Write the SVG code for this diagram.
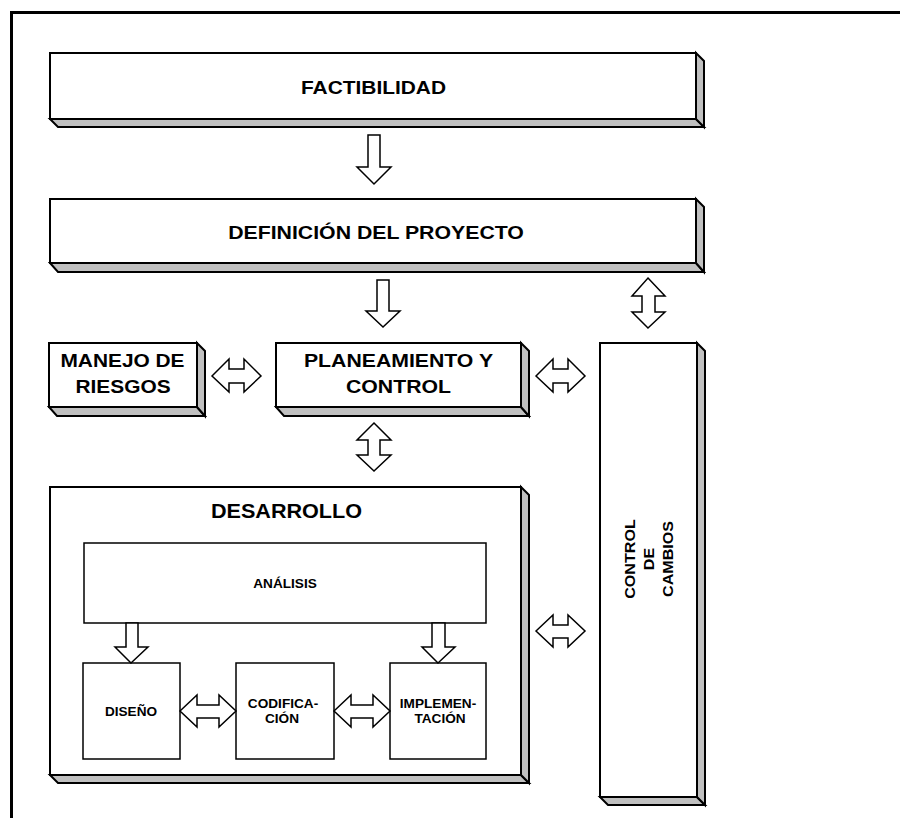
<svg xmlns="http://www.w3.org/2000/svg" width="900" height="818" viewBox="0 0 900 818">
<style>
.f{fill:#fff;stroke:#000;stroke-width:2}
.s{fill:#c0c0c0;stroke:#000;stroke-width:2;stroke-linejoin:miter}
.b{fill:#fff;stroke:#000;stroke-width:1.5}
.a{fill:#fff;stroke:#000;stroke-width:1.5;stroke-linejoin:miter}
text{font-family:"Liberation Sans",Arial,sans-serif;font-weight:bold;fill:#000;text-anchor:middle}
.t19{font-size:19px}
.t18{font-size:18px}
.t20{font-size:20px}
.t14{font-size:14px}
.t12{font-size:12.5px}
</style>
<rect width="900" height="818" fill="#fff"/>
<path d="M11.5,818 V12.5 H900" fill="none" stroke="#000" stroke-width="3"/>

<g id="factibilidad">
<rect class="f" x="50" y="53" width="646" height="66"/>
<polygon class="s" points="50,119 696,119 704,127 58,127"/>
<polygon class="s" points="696,53 704,61 704,127 696,119"/>
<text class="t19" transform="translate(373.5,94) scale(1.1,1)">FACTIBILIDAD</text>
</g>

<g id="definicion">
<rect class="f" x="50" y="199" width="646" height="64"/>
<polygon class="s" points="50,263 696,263 704,272 58,272"/>
<polygon class="s" points="696,199 704,207 704,272 696,263"/>
<text class="t19" transform="translate(376,239) scale(1.12,1)">DEFINICIÓN DEL PROYECTO</text>
</g>

<g id="manejo">
<rect class="f" x="49" y="343" width="148" height="64"/>
<polygon class="s" points="49,407 197,407 205,416 57,416"/>
<polygon class="s" points="197,343 205,351 205,416 197,407"/>
<text class="t18" transform="translate(122.5,367) scale(1.16,1)">MANEJO DE</text>
<text class="t18" transform="translate(123,393) scale(1.16,1)">RIESGOS</text>
</g>

<g id="planeamiento">
<rect class="f" x="276" y="343" width="245" height="64"/>
<polygon class="s" points="276,407 521,407 529,416 284,416"/>
<polygon class="s" points="521,343 529,351 529,416 521,407"/>
<text class="t18" transform="translate(398.5,367) scale(1.18,1)">PLANEAMIENTO Y</text>
<text class="t18" transform="translate(398.5,393) scale(1.18,1)">CONTROL</text>
</g>

<g id="control-cambios">
<rect class="f" x="600" y="343" width="97" height="454"/>
<polygon class="s" points="600,797 697,797 705,805 608,805"/>
<polygon class="s" points="697,343 705,351 705,805 697,797"/>
<g transform="translate(648,559) rotate(-90)">
<text class="t14" transform="translate(0,-13) scale(1.15,1)">CONTROL</text>
<text class="t14" transform="translate(0,6) scale(1.15,1)">DE</text>
<text class="t14" transform="translate(0,25) scale(1.15,1)">CAMBIOS</text>
</g>
</g>

<g id="desarrollo">
<rect class="f" x="50" y="487" width="471" height="288"/>
<polygon class="s" points="50,775 521,775 529,783 58,783"/>
<polygon class="s" points="521,487 529,495 529,783 521,775"/>
<text class="t20" transform="translate(286.5,518) scale(1.08,1)">DESARROLLO</text>
</g>

<g id="analisis">
<rect class="b" x="84" y="543" width="402" height="80"/>
<text class="t12" transform="translate(285,588) scale(1.09,1)">ANÁLISIS</text>
</g>

<g id="diseno">
<rect class="b" x="83" y="663" width="97" height="96"/>
<text class="t12" transform="translate(131,716) scale(1.09,1)">DISEÑO</text>
</g>

<g id="codificacion">
<rect class="b" x="236" y="663" width="98" height="96"/>
<text class="t12" transform="translate(283,708) scale(1.09,1)">CODIFICA-</text>
<text class="t12" transform="translate(282,723) scale(1.09,1)">CIÓN</text>
</g>

<g id="implementacion">
<rect class="b" x="390" y="663" width="96" height="96"/>
<text class="t12" transform="translate(438,708) scale(1.09,1)">IMPLEMEN-</text>
<text class="t12" transform="translate(440,723) scale(1.09,1)">TACIÓN</text>
</g>

<g id="connectors">
<polygon class="a" points="368,135 380,135 380,167 391,167 374,184 357,167 368,167"/>
<polygon class="a" points="377,280 389,280 389,311 400,311 383,327 366,311 377,311"/>
<polygon class="a" points="648,278 665,296 655,296 655,312 665,312 648,328 632,312 642,312 642,296 632,296"/>
<polygon class="a" points="374,423 391,440 380,440 380,455 391,455 374,471 357,455 368,455 368,440 357,440"/>
<polygon class="a" points="212,376 229,359 229,369 244,369 244,359 261,376 244,392 244,383 229,383 229,392"/>
<polygon class="a" points="536,376 553,359 553,369 568,369 568,359 585,376 568,392 568,383 553,383 553,392"/>
<polygon class="a" points="536,631 553,615 553,625 568,625 568,615 585,631 568,647 568,638 553,638 553,647"/>
<polygon class="a" points="126,623 138,623 138,647 148,647 131,663 115,647 126,647"/>
<polygon class="a" points="432,623 445,623 445,647 455,647 438,663 422,647 432,647"/>
<polygon class="a" points="180,711 197,695 197,705 219,705 219,695 236,711 219,727 219,718 197,718 197,727"/>
<polygon class="a" points="334,711 351,695 351,705 373,705 373,695 390,711 373,727 373,718 351,718 351,727"/>
</g>
</svg>
